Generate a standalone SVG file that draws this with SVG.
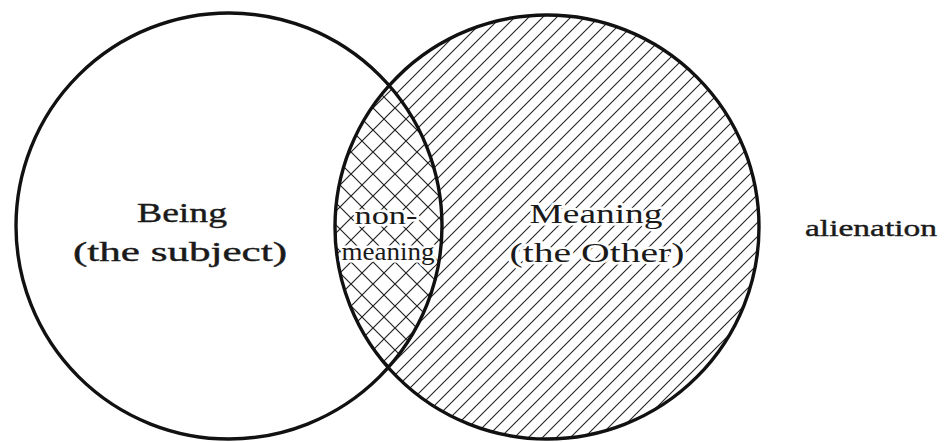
<svg xmlns="http://www.w3.org/2000/svg" width="952" height="442" viewBox="0 0 952 442">
  <style>
    .outline { fill: none; stroke: #111; stroke-width: 3.4; }
    .lbl { font-family: "Liberation Serif", "Times New Roman", serif; fill: #1a1a1a; text-anchor: middle; stroke: #1a1a1a; stroke-width: 0.4; }
    .halo { paint-order: stroke; stroke: #fff; stroke-width: 5; stroke-linejoin: round; }
  </style>
  <defs>
    <pattern id="hatch" patternUnits="userSpaceOnUse" x="0" y="0" width="14" height="14">
      <path d="M-2,2 L2,-2 M0,14 L14,0 M12,16 L16,12" stroke="#222" stroke-width="1.1" fill="none"/>
    </pattern>
    <pattern id="cross" patternUnits="userSpaceOnUse" x="21" y="20" width="22" height="22">
      <path d="M0,22 L22,0 M0,0 L22,22 M-2,2 L2,-2 M20,24 L24,20 M-2,20 L2,24 M20,-2 L24,2" stroke="#222" stroke-width="1.2" fill="none"/>
    </pattern>
    <clipPath id="clipLeft">
      <circle cx="229" cy="226" r="213"/>
    </clipPath>
  </defs>
  <rect width="952" height="442" fill="#fff"/>

  <g id="meaning">
    <circle cx="547" cy="227" r="212" fill="url(#hatch)"/>
  </g>
  <g id="non-meaning" clip-path="url(#clipLeft)">
    <circle cx="547" cy="227" r="212" fill="#fff"/>
    <circle cx="547" cy="227" r="212" fill="url(#cross)"/>
  </g>
  <g id="being">
    <circle class="outline" cx="229" cy="226" r="213"/>
    <text class="lbl" x="182" y="222" font-size="28" textLength="90" lengthAdjust="spacingAndGlyphs">Being</text>
    <text class="lbl" x="180" y="261" font-size="28" textLength="214" lengthAdjust="spacingAndGlyphs">(the subject)</text>
  </g>
  <g id="meaning-outline">
    <circle class="outline" cx="547" cy="227" r="212"/>
    <text class="lbl halo" x="596" y="223" font-size="28" textLength="133" lengthAdjust="spacingAndGlyphs">Meaning</text>
    <text class="lbl halo" x="597" y="262" font-size="28" textLength="175" lengthAdjust="spacingAndGlyphs">(the Other)</text>
  </g>
  <g id="non-meaning-label">
    <text class="lbl halo" x="386" y="224" font-size="26" textLength="63" lengthAdjust="spacingAndGlyphs">non-</text>
    <text class="lbl halo" x="388" y="260" font-size="25" textLength="93" lengthAdjust="spacingAndGlyphs">meaning</text>
  </g>
  <g id="alienation">
    <text class="lbl" x="871" y="236" font-size="24" textLength="132" lengthAdjust="spacingAndGlyphs">alienation</text>
  </g>
  <g id="connectors"/>
</svg>
